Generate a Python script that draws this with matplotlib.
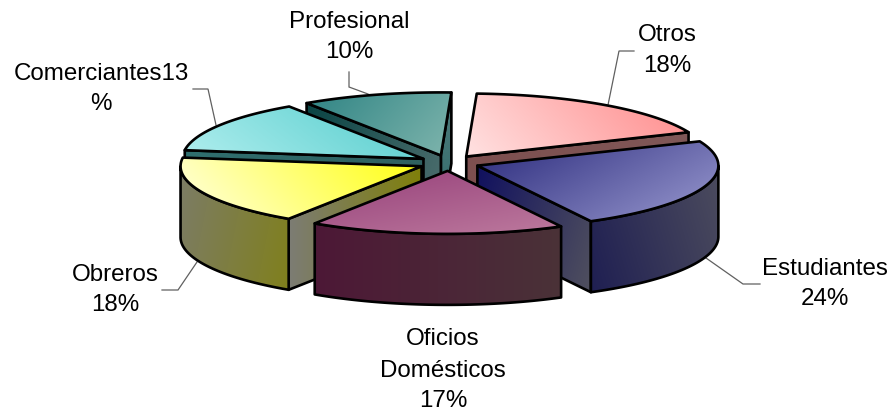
import numpy as np
import matplotlib
matplotlib.use("Agg")
import matplotlib.pyplot as plt
from matplotlib.colors import to_rgb
from matplotlib.patches import Polygon

plt.rcParams['font.family'] = ['Liberation Sans', 'DejaVu Sans']

# ---- data ----
categories = ["Otros", "Estudiantes", "Oficios\nDomésticos", "Obreros", "Comerciantes13\n", "Profesional"]
values = [18.0, 23.5, 17.1, 17.9, 13.4, 10.1]
pct_labels = ["18%", "24%", "17%", "18%", "%", "10%"]

# ---- styles ----
top_cols = [("#ffe2e2", "#ff8a8a", (0.75, -0.65)),
            ("#2a2a7c", "#9a9ad0", (0.5, 0.9)),
            ("#96407a", "#bd7a9e", (0.2, 1.0)),
            ("#ffffe0", "#ffff10", (0.75, -0.65)),
            ("#b0eeee", "#52cccc", (0.6, -0.8)),
            ("#2f8484", "#7fb5ad", (0.75, 0.65))]
wall_cols = [("#7d4f4f", "#805858", (1, 0)),
             ("#10105e", "#50505f", (1, 0.3)),
             ("#4a1534", "#4a3238", (1, 0)),
             ("#7c7c74", "#80800a", (1, 0)),
             ("#2f6f6f", "#2f6060", (1, 0)),
             ("#0a4444", "#4f6f6f", (1, 0.3))]
outer_cols = [None,
              ("#1f1f52", "#4c4c5e", (1, -0.3)),
              ("#4d1836", "#4a3238", (1, 0)),
              ("#7c7c66", "#80801c", (1, 0.2)),
              None, None]
end_wall_cols = {5: ("#2f6a6a", "#4f7c7c", (0, -1))}

CX, CY = 449, 163
RX, RY = 241, 63
DEPTH = 71
EXPLODE = 0.125
START = 2.5
LW = 1.9

label_xy = [(667, 35, 66), (825, 269, 299), (443, None, 401), (115, 275, 305), (101, 74, 104), (349, 22, 52)]
leader_paths = [[(634, 51), (619, 51), (608, 105)],
                [(706, 258), (743, 284), (760, 284)],
                [],
                [(162, 290), (178, 290), (197, 262)],
                [(193, 89), (208, 89), (216, 125)],
                [(349, 72), (349, 87), (368, 94)]]
draw_order = [5, 0, 4, 3, 1, 2]

fig = plt.figure(figsize=(8.93, 4.12), dpi=100)
ax = fig.add_axes([0, 0, 1, 1])
ax.set_axis_off()


def grad_poly(verts, style, zorder):
    c0, c1, d = style
    verts = np.asarray(verts)
    x0, y0 = verts.min(axis=0)
    x1, y1 = verts.max(axis=0)
    xs = np.linspace(x0, x1, 120)
    ys = np.linspace(y0, y1, 120)
    gx, gy = np.meshgrid(xs, ys)
    t = gx * d[0] + gy * d[1]
    t = (t - t.min()) / max(t.max() - t.min(), 1e-6)
    a, b = np.array(to_rgb(c0)), np.array(to_rgb(c1))
    img = a[None, None, :] * (1 - t[..., None]) + b[None, None, :] * t[..., None]
    im = ax.imshow(img, extent=[x0, x1, y1, y0], origin='upper', aspect='auto',
                   interpolation='bilinear', zorder=zorder)
    outline = Polygon(verts, closed=True, facecolor='none', edgecolor='black',
                      linewidth=LW, joinstyle='round', zorder=zorder + 0.1)
    ax.add_patch(outline)
    im.set_clip_path(outline)


def arc(tip, t0, t1):
    th = np.radians(np.linspace(t0, t1, 80))
    return np.column_stack([tip[0] + RX * np.sin(th), tip[1] - RY * np.cos(th)])


fr = np.array(values, dtype=float) / sum(values) * 360
starts = START + np.concatenate([[0], np.cumsum(fr)[:-1]])
ends = starts + fr
down = np.array([0, DEPTH])

z = 1
for i in draw_order:
    s, e = starts[i], ends[i]
    m = np.radians((s + e) / 2)
    tip = np.array([CX + EXPLODE * RX * np.sin(m), CY - EXPLODE * RY * np.cos(m)])
    a = arc(tip, s, e)
    # cut faces that face the viewer
    if np.sin(np.radians(e)) > 0:
        st = end_wall_cols.get(i, wall_cols[i])
        grad_poly([tip, a[-1], a[-1] + down, tip + down], st, z)
        z += 1
    if np.sin(np.radians(s)) < 0:
        grad_poly([tip, a[0], a[0] + down, tip + down], wall_cols[i], z)
        z += 1
    # outer rim
    lo, hi = max(s, 90), min(e, 270)
    if hi > lo and outer_cols[i] is not None:
        r = arc(tip, lo, hi)
        grad_poly(np.vstack([r, (r + down)[::-1]]), outer_cols[i], z)
        z += 1
    # top face
    grad_poly(np.vstack([[tip], a]), top_cols[i], z)
    z += 1

for path in leader_paths:
    if path:
        p = np.array(path)
        ax.plot(p[:, 0], p[:, 1], color='#606060', lw=0.9, zorder=0.5, solid_joinstyle='miter')

FS = 17.4
for i, (lx, y1, y2) in enumerate(label_xy):
    name = categories[i].rstrip("\n")
    if y1 is None:
        parts = name.split("\n")
        ax.text(lx, 339, parts[0], ha='center', va='center', fontsize=FS, color='black')
        ax.text(lx, 371, parts[1], ha='center', va='center', fontsize=FS, color='black')
    else:
        ax.text(lx, y1, name, ha='center', va='center', fontsize=FS, color='black')
    ax.text(lx, y2, pct_labels[i], ha='center', va='center', fontsize=FS, color='black')

ax.set_xlim(0, 893)
ax.set_ylim(412, 0)
fig.savefig("out.png", dpi=100)
